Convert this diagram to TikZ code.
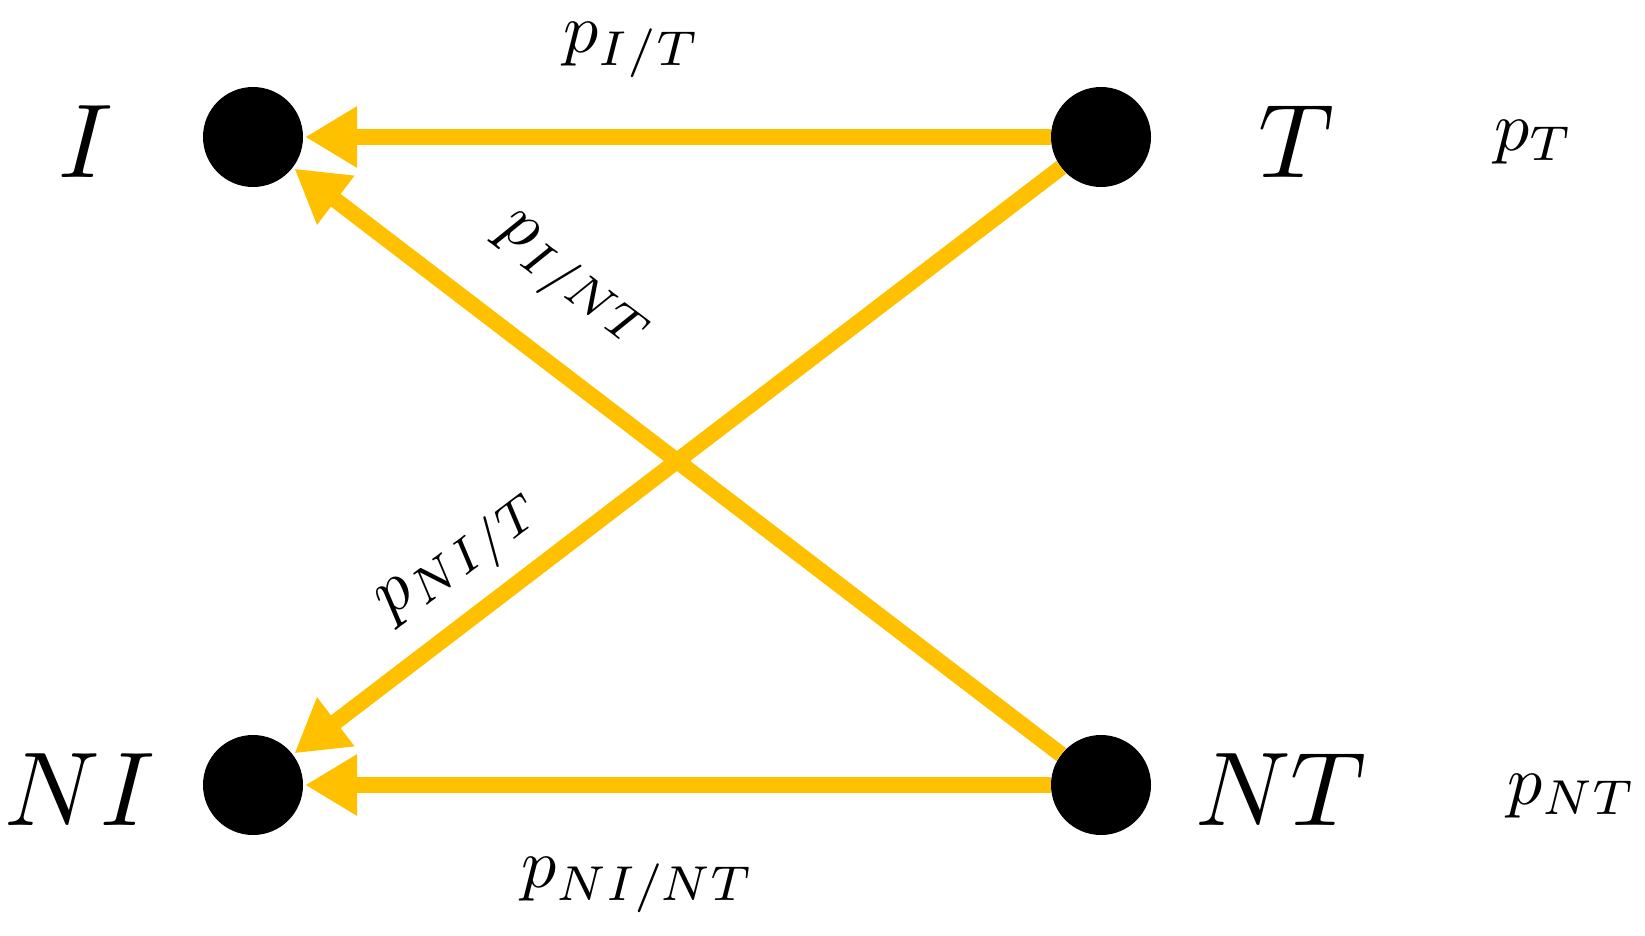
\documentclass[tikz,border=0pt]{standalone}
\usetikzlibrary{arrows.meta}
\definecolor{gold}{HTML}{FFC000}
\begin{document}
\begin{tikzpicture}[x=1pt,y=-1pt,
  dot/.style={circle,fill=black,minimum size=100pt,inner sep=0},
  big/.style={scale=10.5,inner sep=0},
  lab/.style={scale=7,inner sep=0},
  arr/.style={gold,line width=16pt,-{Triangle[length=52pt,width=58pt]},shorten >=2pt}]
\useasboundingbox (0,0) rectangle (1645,936);
\node[dot] (I) at (253,137) {};
\node[dot] (T) at (1101,137) {};
\node[dot] (NI) at (253,785) {};
\node[dot] (NT) at (1101,785) {};
\node[big] (lI) at (86,142) {$I$};
\node[big] (lT) at (1296,142) {$T$};
\node[big] (lNI) at (80,790) {$NI$};
\node[big] (lNT) at (1281,790) {$NT$};
\node[lab] (pT) at (1534,142) {$p_T$};
\node[lab] (pNT) at (1572,796) {$p_{NT}$};
\draw[arr] (T) -- (I);
\draw[arr] (NT) -- (NI);
\draw[arr] (NT) -- (I);
\draw[arr] (T) -- (NI);
\node[lab] (pIT) at (632,50) {$p_{I/T}$};
\node[lab] (pNINT) at (638,885) {$p_{NI/NT}$};
\node[lab,rotate=-37] (pINT) at (572,285) {$p_{I/NT}$};
\node[lab,rotate=37] (pNIT) at (462,560) {$p_{NI/T}$};
\end{tikzpicture}
\end{document}
